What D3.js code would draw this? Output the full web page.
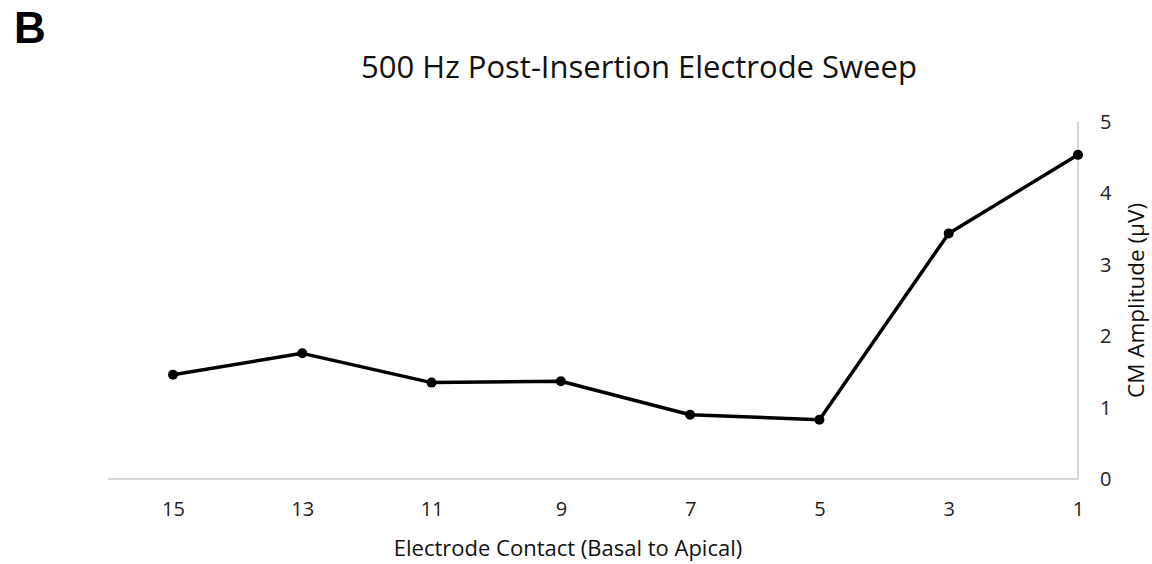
<!DOCTYPE html>
<html>
<head>
<meta charset="utf-8">
<script src="https://cdn.jsdelivr.net/npm/d3@7"></script>
<style>
  body { margin: 0; background: #fff; }
  svg { display: block; }
</style>
</head>
<body>
<div id="chart"></div>
<script>
const contacts = ['15', '13', '11', '9', '7', '5', '3', '1'];
const amplitudes = [1.46, 1.76, 1.35, 1.37, 0.90, 0.83, 3.44, 4.54];
const yTicks = [0, 1, 2, 3, 4, 5];

const width = 1152;
const height = 564;
const margin = { top: 122, right: 74, bottom: 85, left: 173 };
const FONT = '"Open Sans", sans-serif';

const svg = d3.select('#chart').append('svg')
  .attr('width', width)
  .attr('height', height);

const x = d3.scalePoint()
  .domain(contacts)
  .range([margin.left, width - margin.right]);
const step = x.step();

const y = d3.scaleLinear()
  .domain([0, 5])
  .range([height - margin.bottom, margin.top]);

// x axis (category labels, no ticks)
const xAxis = svg.append('g')
  .attr('transform', `translate(0, ${y(0)})`)
  .call(d3.axisBottom(x).tickSize(0).tickPadding(23));
xAxis.select('.domain').remove();
xAxis.selectAll('text')
  .attr('font-family', FONT)
  .attr('font-size', 20)
  .attr('fill', '#222');

svg.append('line')
  .attr('x1', margin.left - step / 2)
  .attr('x2', width - margin.right)
  .attr('y1', y(0))
  .attr('y2', y(0))
  .attr('stroke', '#c8c8c8')
  .attr('stroke-width', 1.5);

// y axis on the right
const yAxis = svg.append('g')
  .attr('transform', `translate(${width - margin.right}, 0)`)
  .call(d3.axisRight(y).tickValues(yTicks).tickFormat(d3.format('d')).tickSize(0).tickPadding(22));
yAxis.select('.domain').remove();
yAxis.selectAll('text')
  .attr('font-family', FONT)
  .attr('font-size', 20)
  .attr('fill', '#222');

svg.append('line')
  .attr('x1', width - margin.right)
  .attr('x2', width - margin.right)
  .attr('y1', y(5))
  .attr('y2', y(0))
  .attr('stroke', '#c8c8c8')
  .attr('stroke-width', 1.5);

// line + markers
const lineFn = d3.line()
  .x((_, i) => x(contacts[i]))
  .y(d => y(d));

svg.append('path')
  .datum(amplitudes)
  .attr('fill', 'none')
  .attr('stroke', '#000')
  .attr('stroke-width', 3.5)
  .attr('stroke-linejoin', 'round')
  .attr('d', lineFn);

svg.selectAll('circle.pt')
  .data(amplitudes)
  .enter()
  .append('circle')
  .attr('class', 'pt')
  .attr('cx', (_, i) => x(contacts[i]))
  .attr('cy', d => y(d))
  .attr('r', 5)
  .attr('fill', '#000');

// titles
svg.append('text')
  .attr('x', 639)
  .attr('y', 78)
  .attr('text-anchor', 'middle')
  .attr('font-family', FONT)
  .attr('font-size', 31)
  .attr('fill', '#111')
  .text('500 Hz Post-Insertion Electrode Sweep');

svg.append('text')
  .attr('x', 568)
  .attr('y', 556)
  .attr('text-anchor', 'middle')
  .attr('font-family', FONT)
  .attr('font-size', 22)
  .attr('fill', '#111')
  .text('Electrode Contact (Basal to Apical)');

svg.append('text')
  .attr('transform', `translate(1144, ${(y(0) + y(5)) / 2}) rotate(-90)`)
  .attr('text-anchor', 'middle')
  .attr('font-family', FONT)
  .attr('font-size', 22.5)
  .attr('fill', '#111')
  .text('CM Amplitude (µV)');

svg.append('text')
  .attr('x', 14)
  .attr('y', 43)
  .attr('font-family', 'Liberation Sans, Arial, sans-serif')
  .attr('font-weight', 'bold')
  .attr('font-size', 44)
  .attr('fill', '#000')
  .text('B');
</script>
</body>
</html>
